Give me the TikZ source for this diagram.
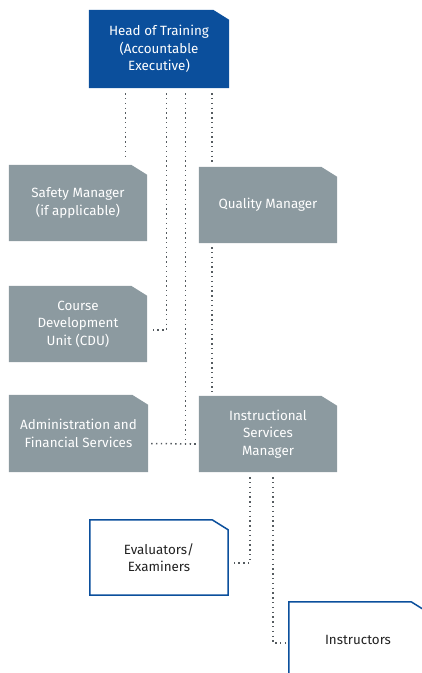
\documentclass[tikz,border=0pt]{standalone}
\usepackage{fontspec}
\setmainfont{Fira Sans}
\usetikzlibrary{backgrounds,calc}
\definecolor{hblue}{HTML}{0B4F9C}
\definecolor{bgrey}{HTML}{8C9AA0}
\definecolor{dotc}{HTML}{555B60}
\definecolor{txtd}{HTML}{222222}
\newcommand\chshape[2]{\path[#2] (#1.south west) -- (#1.north west) -- ([xshift=-16pt]#1.north east) -- ([yshift=-10pt]#1.north east) -- (#1.south east) -- cycle;}
\tikzset{
  boxbase/.style={inner sep=2pt, align=center, font=\fontsize{13.4}{17.5}\selectfont, minimum width=138pt, minimum height=76pt},
  whitebox/.style={boxbase, text=white},
  darkbox/.style={boxbase, text=txtd},
  dotline/.style={draw=dotc, line width=1.5pt, dash pattern=on 1.4pt off 3.4pt}
}
\begin{document}
\begin{tikzpicture}[x=1pt,y=-1pt]
\useasboundingbox (0,0) rectangle (422,673);
\node[whitebox, minimum width=140pt, minimum height=78pt] (head) at (159,49) {Head of Training\\(Accountable\\Executive)};
\node[whitebox] (safety) at (78,203) {Safety Manager\\(if applicable)};
\node[whitebox] (quality) at (268,205) {Quality Manager};
\node[whitebox] (cdu) at (78,324) {Course\\Development\\Unit (CDU)};
\node[whitebox, minimum width=139pt, minimum height=77pt] (admin) at (78.5,433.5) {Administration and\\Financial Services};
\node[whitebox] (ism) at (268,434) {Instructional\\Services\\Manager};
\node[darkbox, minimum height=75pt] (eval) at (159,557.5) {Evaluators/\\Examiners};
\node[darkbox] (instr) at (358,640) {Instructors};
\begin{scope}[on background layer]
\chshape{head}{fill=hblue}
\chshape{safety}{fill=bgrey}
\chshape{quality}{fill=bgrey}
\chshape{cdu}{fill=bgrey}
\chshape{admin}{fill=bgrey}
\chshape{ism}{fill=bgrey}
\chshape{eval}{draw=hblue, line width=1.5pt}
\chshape{instr}{draw=hblue, line width=1.5pt}
\end{scope}
% connectors
\draw[dotline] ([xshift=-33.3pt,yshift=-5pt]head.south) coordinate (s1) -- ([yshift=7pt]s1 |- safety.north);
\draw[dotline] ([xshift=7.7pt,yshift=-5pt]head.south) |- ([xshift=3pt,yshift=-6pt]cdu.east);
\draw[dotline] ([xshift=26.3pt,yshift=-5pt]head.south) |- ([xshift=-2pt,yshift=-10pt]ism.west);
\draw[dotline] ([xshift=3pt,yshift=-10pt]admin.east) -- ([xshift=-2pt,yshift=-10pt]ism.west);
\draw[dotline] ([xshift=53pt,yshift=-5pt]head.south) coordinate (q1) -- ([yshift=5pt]q1 |- quality.north);
\draw[dotline] ([xshift=-56pt,yshift=-4pt]quality.south) -- ([xshift=-56pt,yshift=4pt]ism.north);
\draw[dotline] ([xshift=-18pt,yshift=-5pt]ism.south) |- ([xshift=5pt,yshift=-5.5pt]eval.east);
\draw[dotline] ([xshift=5pt,yshift=-5pt]ism.south) |- ([xshift=-3pt,yshift=-3pt]instr.west);
\end{tikzpicture}
\end{document}
